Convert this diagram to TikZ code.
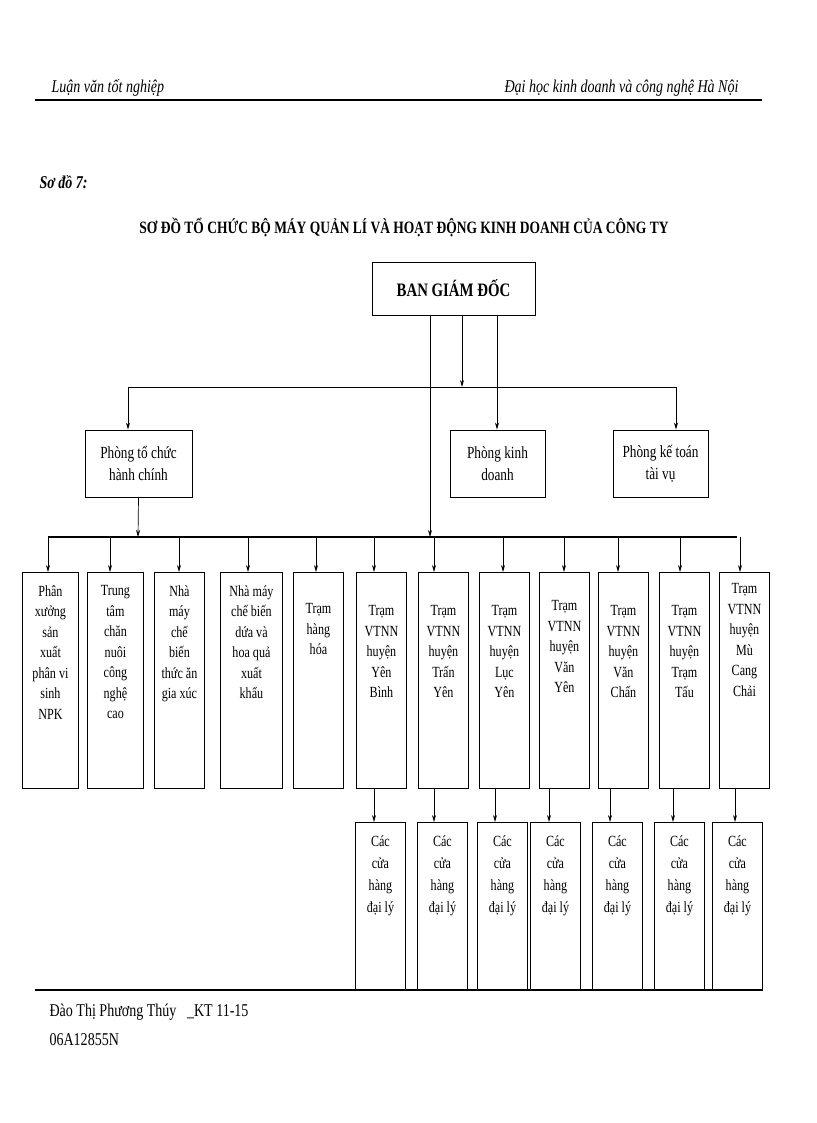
\documentclass[tikz,border=0pt]{standalone}
\usepackage{fontspec}
\setmainfont{Liberation Serif}[FakeStretch=0.78]
\usetikzlibrary{arrows.meta}
\begin{document}
\begin{tikzpicture}[x=1pt,y=-1pt,
 bx/.style={draw,line width=0.9pt,inner sep=0pt},
 tx/.style={align=center,font=\fontsize{15.5}{20.5}\selectfont},
 ar/.style={-{Stealth[length=7pt,width=4pt]},line width=0.7pt},
 ln/.style={line width=0.7pt}]
\useasboundingbox (0,0) rectangle (816,1123);
\node[anchor=west,font=\itshape\fontsize{18}{21}\selectfont] (h1) at (48,88) {Luận văn tốt nghiệp};
\node[anchor=east,font=\itshape\fontsize{18}{21}\selectfont] (h2) at (742,88) {Đại học kinh doanh và công nghệ Hà Nội};
\draw[line width=1.2pt] (35,100) -- (762,100);
\node[anchor=west,font=\bfseries\itshape\fontsize{18}{21}\selectfont] (s7) at (36,182) {Sơ đồ 7:};
\node[font=\bfseries\fontsize{17.3}{20}\selectfont] (title) at (404,227) {SƠ ĐỒ TỔ CHỨC BỘ MÁY QUẢN LÍ VÀ HOẠT ĐỘNG KINH DOANH CỦA CÔNG TY};
\node[bx,minimum width=163pt,minimum height=53pt,font=\bfseries\fontsize{19}{22}\selectfont] (bgd) at (453.5,288.5) {BAN GIÁM ĐỐC};
\node[bx,tx,minimum width=107pt,minimum height=67pt,font=\fontsize{17}{22}\selectfont] (p1) at (138.5,463.5) {Phòng tổ chức\\hành chính};
\node[bx,tx,minimum width=95pt,minimum height=67pt,font=\fontsize{17}{22}\selectfont] (p2) at (497.5,463.5) {Phòng kinh\\doanh};
\node[bx,tx,minimum width=95pt,minimum height=67pt,font=\fontsize{17}{22}\selectfont] (p3) at (660.5,463.5) {Phòng kế toán\\tài vụ};
\coordinate (b1l) at (128,387); \coordinate (b1r) at (676,387);
\draw[ln] (b1l) -- (b1r);
\draw[ar] (b1l) -- (b1l|-p1.north);
\draw[ar] (b1r) -- (b1r|-p3.north);
\draw[ar] (bgd.south-|462,0) -- (462,387);
\draw[ar] (bgd.south-|497,0) -- (p2.north-|497,0);
\coordinate (b2l) at (48,537); \coordinate (b2r) at (737,537);
\draw[line width=1.2pt] (b2l) -- (b2r);
\draw[ar] (bgd.south-|430,0) -- (430,537);
\draw[ar] (p1.south) -- (138,537);
\foreach \n/\l/\r/\ax/\t in {
 u1/22/78/48/{Phân\\xưởng\\sản\\xuất\\phân vi\\sinh\\NPK},
 u2/87/143/110/{Trung\\tâm\\chăn\\nuôi\\công\\nghệ\\cao},
 u3/154/204/179/{Nhà\\máy\\chế\\biến\\thức ăn\\gia xúc},
 u4/220/282/248/{Nhà máy\\chế biến\\dứa và\\hoa quả\\xuất\\khẩu}}{
 \node[bx,minimum width=\r pt-\l pt,minimum height=216pt,anchor=north west] (\n) at (\l,572) {};
 \node[tx,anchor=north] (\n t) at ([yshift=-10pt]\n.north) {\t};
 \draw[ar] (\ax,537) -- (\ax,572);
}
\node[bx,minimum width=50pt,minimum height=216pt,anchor=north west] (u5) at (293,572) {};
\node[tx,anchor=north] (u5t) at ([yshift=-28pt]u5.north) {Trạm\\hàng\\hóa};
\draw[ar] (316,537) -- (316,572);
\foreach \n/\l/\ax/\t/\sh in {
 u6/356/374/{Trạm\\VTNN\\huyện\\Yên\\Bình}/30,
 u7/418/434/{Trạm\\VTNN\\huyện\\Trấn\\Yên}/30,
 u8/479/503/{Trạm\\VTNN\\huyện\\Lục\\Yên}/30,
 u9/539/564/{Trạm\\VTNN\\huyện\\Văn\\Yên}/25,
 u10/598/618/{Trạm\\VTNN\\huyện\\Văn\\Chấn}/30,
 u11/659/680/{Trạm\\VTNN\\huyện\\Trạm\\Tấu}/30,
 u12/719/740/{Trạm\\VTNN\\huyện\\Mù\\Cang\\Chải}/8}{
 \node[bx,minimum width=50pt,minimum height=216pt,anchor=north west] (\n) at (\l,572) {};
 \node[tx,anchor=north] (\n t) at ([yshift=-\sh pt]\n.north) {\t};
 \draw[ar] (\ax,537) -- (\ax,572);
}
\foreach \n/\l/\dx in {c1/355/374,c2/417/434,c3/477/495,c4/530/549,c5/592/610,c6/654/673,c7/712/735}{
 \node[bx,minimum width=50pt,minimum height=168pt,anchor=north west] (\n) at (\l,822) {};
 \node[tx,anchor=north,font=\fontsize{15.5}{22}\selectfont] (\n t) at ([yshift=-10pt]\n.north) {Các\\cửa\\hàng\\đại lý};
 \draw[ar] (\dx,788) -- (\dx,822);
}
\draw[line width=1.2pt] (35,990) -- (762,990);
\node[anchor=west,font=\fontsize{18}{21}\selectfont] (f1) at (46,1012) {Đào Thị Phương Thúy\ \ \ \_KT 11-15};
\node[anchor=west,font=\fontsize{18}{21}\selectfont] (f2) at (46,1040) {06A12855N};
\end{tikzpicture}
\end{document}
